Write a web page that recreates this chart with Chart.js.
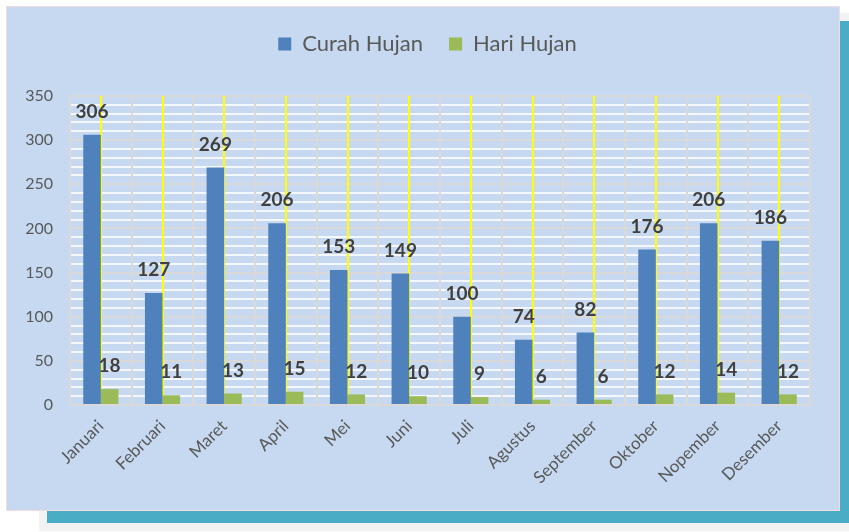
<!DOCTYPE html>
<html><head><meta charset="utf-8">
<script src="https://cdn.jsdelivr.net/npm/chart.js@4"></script>
<style>
html,body{margin:0;padding:0;background:#fff;width:849px;height:532px;overflow:hidden;}
#gray{position:absolute;left:39px;top:13px;width:810px;height:518px;background:#F2F2F2;}
#teal{position:absolute;left:47px;top:21px;width:802px;height:502px;background:#4BACC6;}
#panel{position:absolute;left:6px;top:6px;width:832px;height:503px;background:#C6D9F1;border:1px solid #F2DCDB;}
#wrap{position:absolute;left:7px;top:7px;width:832px;height:503px;}
</style></head><body>
<div id="gray"></div><div id="teal"></div><div id="panel"></div>
<div id="wrap"><canvas id="c"></canvas></div>
<script>
const months = ['Januari','Februari','Maret','April','Mei','Juni','Juli','Agustus','September','Oktober','Nopember','Desember'];
const curahHujan = [306,127,269,206,153,149,100,74,82,176,206,186];
const hariHujan = [18,11,13,15,12,10,9,6,6,12,14,12];
const yMin = 0, yMax = 350, yMajor = 50, yMinor = 10;

const FONT = 'Lato';
const dataLabels = {
  id: 'dataLabels',
  afterDatasetsDraw(chart) {
    const ctx = chart.ctx;
    ctx.save();
    ctx.font = 'bold 19px ' + FONT;
    ctx.fillStyle = '#404040';
    ctx.textAlign = 'center';
    ctx.textBaseline = 'middle';
    chart.data.datasets.forEach((ds, i) => {
      const meta = chart.getDatasetMeta(i);
      meta.data.forEach((bar, j) => {
        ctx.fillText(String(ds.data[j]), bar.x, bar.y - 23);
      });
    });
    ctx.restore();
  }
};

new Chart(document.getElementById('c'), {
  type: 'bar',
  data: {
    labels: months,
    datasets: [
      {label: 'Curah Hujan', data: curahHujan, backgroundColor: '#4F81BD', borderWidth: 0, xAxisID: 'x', yAxisID: 'y'},
      {label: 'Hari Hujan', data: hariHujan, backgroundColor: '#9BBB59', borderWidth: 0, xAxisID: 'x', yAxisID: 'y'}
    ]
  },
  options: {
    responsive: true,
    maintainAspectRatio: false,
    animation: false,
    datasets: {bar: {barPercentage: 1, categoryPercentage: 0.57}},
    layout: {padding: {top: 0, right: 0, bottom: 0, left: 9}},
    plugins: {
      legend: {
        position: 'top',
        labels: {boxWidth: 13, boxHeight: 13, padding: 26, color: '#595959', font: {family: FONT, size: 22}}
      },
      tooltip: {enabled: false}
    },
    scales: {
      y: {
        min: yMin, max: yMax,
        afterFit(s) { s.width = 54; },
        ticks: {
          stepSize: yMinor, autoSkip: false, padding: 17, color: '#595959',
          font: {family: FONT, size: 16},
          callback: v => (v % yMajor === 0 ? v : '')
        },
        grid: {
          drawTicks: false, lineWidth: 2,
          color: c => (c.tick && c.tick.value % yMajor === 0 ? '#D9D9D9' : '#F4F7FB')
        },
        border: {display: true, color: '#D9D9D9', width: 2}
      },
      ySpacer: {
        type: 'linear',
        position: 'right',
        min: yMin, max: yMax,
        afterFit(s) { s.width = 29; },
        ticks: {display: false},
        grid: {display: false, drawTicks: false},
        border: {display: false}
      },
      x: {
        position: 'bottom',
        afterFit(s) { s.height = 105; },
        ticks: {minRotation: 45, maxRotation: 45, padding: 11, color: '#595959', font: {family: FONT, size: 17}},
        grid: {offset: true, drawTicks: false, color: '#D9D9D9', lineWidth: 2},
        border: {display: true, color: '#D9D9D9', width: 2}
      },
      xCenter: {
        type: 'category',
        position: 'top',
        offset: true,
        afterFit(s) { s.height = 31; },
        ticks: {display: false},
        grid: {offset: false, drawTicks: false, color: '#FFFF00', lineWidth: 2},
        border: {display: false}
      }
    }
  },
  plugins: [dataLabels]
});
</script>
</body></html>
